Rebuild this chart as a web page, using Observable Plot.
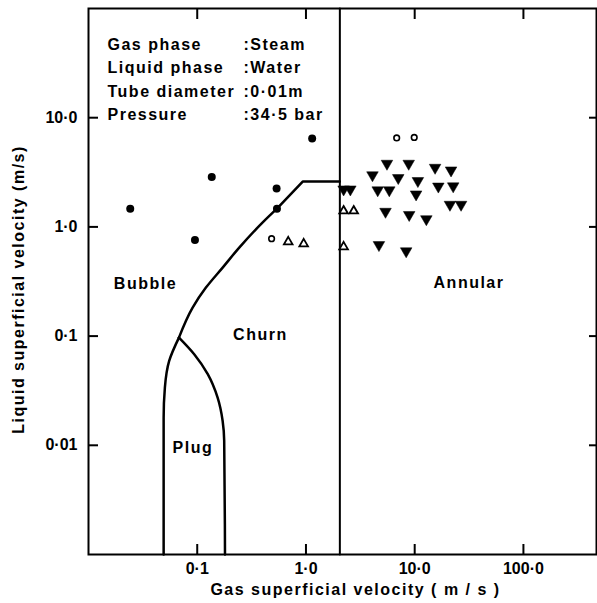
<!DOCTYPE html>
<html><head><meta charset="utf-8">
<script src="https://cdn.jsdelivr.net/npm/d3@7"></script>
<script src="https://cdn.jsdelivr.net/npm/@observablehq/plot@0.6"></script>
<style>
html,body{margin:0;padding:0;background:#fff;overflow:hidden}
svg{display:block}
g[aria-label="x-axis tick label"] text, g[aria-label="y-axis tick label"] text{letter-spacing:0}
g[aria-label="y-title"] text{letter-spacing:2.8px}
</style></head><body><div id="chart"></div>
<script>
// Axis ticks
const xTicks = [0.1, 1, 10, 100];
const xTickLabels = ["0·1", "1·0", "10·0", "100·0"];
const yTicks = [0.01, 0.1, 1, 10];
const yTickLabels = ["0·01", "0·1", "1·0", "10·0"];
const xTitle = "Gas superficial velocity ( m / s )";
const yTitle = "Liquid superficial velocity (m/s)";

// Info block
const infoLabels = ["Gas phase", "Liquid phase", "Tube diameter", "Pressure"];
const infoValues = [":Steam", ":Water", ":0·01m", ":34·5 bar"];

// Regime labels
const regionLabels = ["Bubble", "Churn", "Plug", "Annular"];
const regionX = [0.0334, 0.381, 0.0912, 31.6];
const regionY = [0.30, 0.103, 0.0095, 0.309];

// Observations: filled circles
const bubbleX = [0.0242, 0.0953, 0.136, 0.537, 0.541, 1.14];
const bubbleY = [1.47, 0.76, 2.87, 2.25, 1.47, 6.44];
// open circles
const openCircleX = [0.483, 6.83, 9.9];
const openCircleY = [0.78, 6.53, 6.6];
// open triangles
const openTriX = [0.687, 0.953, 2.22, 2.75, 2.22];
const openTriY = [0.73, 0.70, 1.40, 1.40, 0.656];
// filled down triangles
const annularX = [2.22, 2.56, 5.56, 8.81, 15.4, 21.6, 4.09, 7.06, 10.7, 4.57, 5.84, 10.3, 16.5, 22.6, 21.1, 26.7, 5.39, 8.90, 12.8, 4.69, 8.35];
const annularY = [2.21, 2.21, 3.80, 3.80, 3.49, 3.30, 2.98, 2.81, 2.64, 2.17, 2.17, 1.99, 2.35, 2.36, 1.60, 1.60, 1.38, 1.29, 1.18, 0.684, 0.60];

// Regime boundaries (ordered by increasing liquid velocity)
const bubbleChurnCurveX = [0.0679, 0.0907, 0.1202, 0.1713, 0.2434, 0.413, 0.541];
const bubbleChurnCurveY = [0.0969, 0.1824, 0.278, 0.424, 0.646, 1.135, 1.47];
const bubbleChurnUpperX = [0.541, 0.933, 2.05];
const bubbleChurnUpperY = [1.47, 2.60, 2.60];
const plugLeftX = [0.0491, 0.0491, 0.0504, 0.0552, 0.0679];
const plugLeftY = [0.001, 0.0179, 0.0338, 0.0593, 0.0969];
const plugRightX = [0.180, 0.177, 0.1713, 0.154, 0.125, 0.0938, 0.0679];
const plugRightY = [0.001, 0.011, 0.0167, 0.0273, 0.0448, 0.0683, 0.0969];
const churnAnnularX = [2.05, 2.05];
const churnAnnularY = [0.001, 100];

const pts = (xs, ys) => xs.map((x, i) => ({x, y: ys[i]}));
const triangleDown = {
  draw(context, size) {
    const y = Math.sqrt(size / (Math.sqrt(3) * 3));
    context.moveTo(0, y * 2);
    context.lineTo(-Math.sqrt(3) * y, -y);
    context.lineTo(Math.sqrt(3) * y, -y);
    context.closePath();
  }
};

const font = "'Liberation Sans', Arial, sans-serif";
const lineStyle = {x: "x", y: "y", stroke: "#000", strokeWidth: 2.5, strokeLinejoin: "round"};

const chart = Plot.plot({
  width: 597, height: 603,
  marginLeft: 88, marginRight: 1, marginTop: 8, marginBottom: 49,
  style: {fontFamily: font, fontSize: "16px", fontWeight: "bold", color: "#000", background: "#fff", letterSpacing: "1.5px"},
  x: {type: "log", domain: [0.01, 470]},
  y: {type: "log", domain: [0.001, 100]},
  marks: [
    Plot.axisX({anchor: "bottom", ticks: xTicks, tickFormat: d => xTickLabels[xTicks.indexOf(d)], tickSize: -10, tickPadding: 18, strokeWidth: 2, label: null}),
    Plot.axisX({anchor: "top", ticks: xTicks, tickFormat: () => "", tickSize: -10, strokeWidth: 2, label: null}),
    Plot.axisY({anchor: "left", ticks: yTicks, tickFormat: d => yTickLabels[yTicks.indexOf(d)], tickSize: -10, tickPadding: 21, strokeWidth: 2, label: null}),
    Plot.axisY({anchor: "right", ticks: yTicks, tickFormat: () => "", tickSize: -8, strokeWidth: 2, label: null}),
    Plot.frame({stroke: "#000", strokeWidth: 2}),
    Plot.line(pts(bubbleChurnCurveX, bubbleChurnCurveY), {...lineStyle, curve: "monotone-y"}),
    Plot.line(pts(bubbleChurnUpperX, bubbleChurnUpperY), lineStyle),
    Plot.line(pts(plugLeftX, plugLeftY), {...lineStyle, curve: "monotone-y"}),
    Plot.line(pts(plugRightX, plugRightY), {...lineStyle, curve: "monotone-y"}),
    Plot.line(pts(churnAnnularX, churnAnnularY), {...lineStyle, strokeWidth: 2}),
    Plot.dot(pts(bubbleX, bubbleY), {x: "x", y: "y", r: 4, fill: "#000"}),
    Plot.dot(pts(openCircleX, openCircleY), {x: "x", y: "y", r: 2.8, stroke: "#000", strokeWidth: 1.6, fill: "#fff"}),
    Plot.dot(pts(openTriX, openTriY), {x: "x", y: "y", r: 3.2, symbol: "triangle", stroke: "#000", strokeWidth: 1.8, fill: "#fff"}),
    Plot.dot(pts(annularX, annularY), {x: "x", y: "y", r: 4.3, symbol: triangleDown, fill: "#000", stroke: "#000", strokeWidth: 0.5}),
    Plot.text(regionLabels.map((t, i) => ({t, x: regionX[i], y: regionY[i]})), {x: "x", y: "y", text: "t", fill: "#000"}),
    Plot.text([infoLabels.join("\n")], {text: d => d, frameAnchor: "top-left", dx: 19, dy: 25, lineAnchor: "top", textAnchor: "start", lineHeight: 1.46, fill: "#000"}),
    Plot.text([infoValues.join("\n")], {text: d => d, frameAnchor: "top-left", dx: 155, dy: 25, lineAnchor: "top", textAnchor: "start", lineHeight: 1.46, fill: "#000"}),
    Plot.text([xTitle], {text: d => d, frameAnchor: "bottom", dx: 13, dy: 35, lineAnchor: "middle", textAnchor: "middle", fill: "#000"}),
    Plot.text([yTitle], {text: d => d, frameAnchor: "left", dx: -70, dy: 8, rotate: -90, lineAnchor: "middle", textAnchor: "middle", fill: "#000", ariaLabel: "y-title"})
  ]
});
document.getElementById("chart").appendChild(chart);
</script>
</body></html>
